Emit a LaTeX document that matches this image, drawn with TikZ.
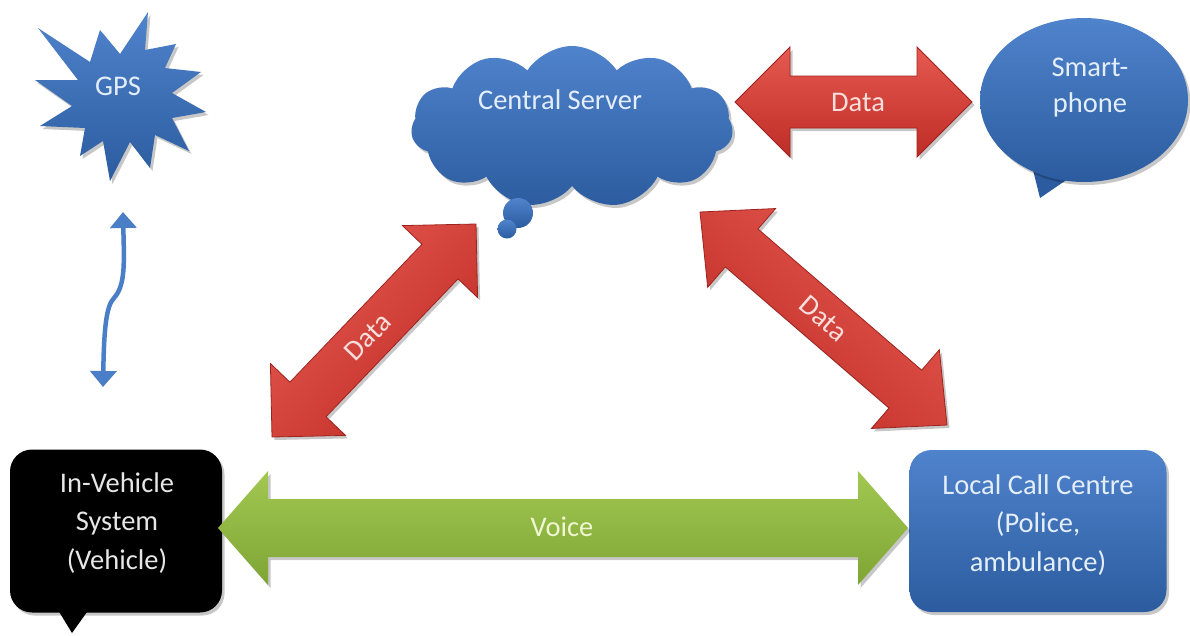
\documentclass[tikz,border=0pt]{standalone}
\usepackage{fontspec}
\setmainfont{Carlito}
\usetikzlibrary{calc,shapes.symbols,shapes.geometric,shadows,arrows.meta}

\definecolor{blueTop}{HTML}{4F83CC}
\definecolor{blueBot}{HTML}{2C5C9F}
\definecolor{gpsLine}{HTML}{4A7EC7}
\definecolor{redTop}{HTML}{E65A50}
\definecolor{redBot}{HTML}{BE2C26}
\definecolor{redEdge}{HTML}{9E231E}
\definecolor{greenTop}{HTML}{A2C852}
\definecolor{greenBot}{HTML}{7EA535}
\definecolor{txtBlue}{HTML}{E4EEFA}
\definecolor{txtRed}{HTML}{F8DEDC}
\definecolor{txtGreen}{HTML}{F1F6D2}
\definecolor{txtDark}{HTML}{E6E6E6}

\tikzset{
  softshadow/.style={drop shadow={opacity=0.22, shadow xshift=2.5pt, shadow yshift=-3pt, fill=black}},
  bluefill/.style={top color=blueTop, bottom color=blueBot},
  lbl/.style={font=\fontsize{28.5}{38.5}\selectfont, align=center, inner sep=0pt},
  redarrow/.style={top color=redTop, bottom color=redBot, draw=redEdge, line width=0.8pt, softshadow},
  greenarrow/.style={top color=greenTop, bottom color=greenBot, softshadow},
}

% double-headed block arrow between two named coordinates
% #1 prefix, #2 tail tip, #3 head tip, #4 head length, #5 head half width, #6 shaft half width, #7 style
\newcommand\blockarrow[7]{%
  \coordinate (#1-a) at ($(#2)!#4!(#3)$);
  \coordinate (#1-b) at ($(#3)!#4!(#2)$);
  \path[#7] (#2)
    -- ($(#1-a)!#5!90:(#3)$) -- ($(#1-a)!#6!90:(#3)$)
    -- ($(#1-b)!#6!-90:(#2)$) -- ($(#1-b)!#5!-90:(#2)$)
    -- (#3)
    -- ($(#1-b)!#5!90:(#2)$) -- ($(#1-b)!#6!90:(#2)$)
    -- ($(#1-a)!#6!-90:(#3)$) -- ($(#1-a)!#5!-90:(#3)$)
    -- cycle;
}

\begin{document}
\begin{tikzpicture}[x=1pt,y=-1pt]
\useasboundingbox (0,0) rectangle (1190,635);
\fill[white] (0,0) rectangle (1190,635);

% GPS burst
\path[bluefill, softshadow] (38,28) -- (90,62) -- (100,30) -- (120,54) -- (148,12)
  -- (145,50) -- (176,44) -- (165,68) -- (201,72) -- (172,93) -- (206,112)
  -- (172,118) -- (189,151) -- (155,135) -- (150,168) -- (130,142) -- (110,181)
  -- (103,141) -- (80,156) -- (85,128) -- (40,126) -- (72,106) -- (35,80)
  -- (78,80) -- cycle;
\node[lbl, text=txtBlue] (gps) at (118,86) {GPS};

% GPS <-> vehicle link
\coordinate (gpsTop) at (123,212);
\coordinate (gpsBot) at (103,387);
\draw[gpsLine, line width=4.5pt,
  {Triangle[width=26pt,length=16pt]}-{Triangle[width=26pt,length=16pt]}]
  (gpsTop) .. controls (124,260) and (126,285) .. (114,298)
  .. controls (106,306) and (104,330) .. (gpsBot);

% central server cloud
\node[cloud, cloud puffs=11, cloud puff arc=115, aspect=2, minimum width=322pt,
  minimum height=162pt, inner sep=0pt, bluefill, softshadow] (server) at (572,127) {};
\node[circle, minimum size=30pt, inner sep=0pt, bluefill] (bubA) at (518,213) {};
\node[circle, minimum size=19pt, inner sep=0pt, bluefill] (bubB) at (507,229) {};
\node[lbl, text=txtBlue] (serverText) at (560,100) {Central Server};

% smartphone speech bubble
\fill[blueBot] (1030,158) -- (1040,198) -- (1078,172) -- cycle;
\node[ellipse, minimum width=208pt, minimum height=164pt, inner sep=0pt,
  bluefill, softshadow] (phone) at (1084,100) {};
\node[lbl, text=txtBlue, font=\fontsize{28.5}{36}\selectfont] (phoneText) at (1090,88) {Smart-\\phone};

% server <-> smartphone
\coordinate (dsL) at (735,102);
\coordinate (dsR) at (972,102);
\blockarrow{dh}{dsL}{dsR}{55pt}{55pt}{26pt}{redarrow}
\node[lbl, text=txtRed] (dataTop) at (858,102) {Data};

% vehicle <-> server
\coordinate (dvA) at (272,437);
\coordinate (dvB) at (476,224);
\blockarrow{dl}{dvA}{dvB}{52pt}{52pt}{25pt}{redarrow, shading angle=46}
\node[lbl, text=txtRed, rotate=46] (dataLeft) at ($(dvA)!0.47!(dvB)$) {Data};

% server <-> call centre
\coordinate (dcA) at (700,212);
\coordinate (dcB) at (947,425);
\blockarrow{dr}{dcA}{dcB}{55pt}{52pt}{25pt}{redarrow, shading angle=-41}
\node[lbl, text=txtRed, rotate=-41] (dataRight) at ($(dcA)!0.5!(dcB)$) {Data};

% in-vehicle system box
\fill[black] (55,605) -- (72,633) -- (92,605) -- cycle;
\node[rounded corners=22pt, fill=black, minimum width=212pt, minimum height=163pt,
  inner sep=0pt, softshadow] (vehicle) at (116,531) {};
\node[lbl, text=txtDark] (vehicleText) at (117,523) {In-Vehicle\\System\\(Vehicle)};

% local call centre box
\node[rounded corners=22pt, minimum width=257pt, minimum height=162pt, inner sep=0pt,
  bluefill, softshadow] (centre) at (1038,531) {};
\node[lbl, text=txtBlue] (centreText) at (1038,525) {Local Call Centre\\(Police,\\ambulance)};

% voice link
\coordinate (vL) at (218,528);
\coordinate (vR) at (908,528);
\blockarrow{vc}{vL}{vR}{50pt}{57pt}{29pt}{greenarrow}
\node[lbl, text=txtGreen] (voice) at (562,527) {Voice};
\end{tikzpicture}
\end{document}
